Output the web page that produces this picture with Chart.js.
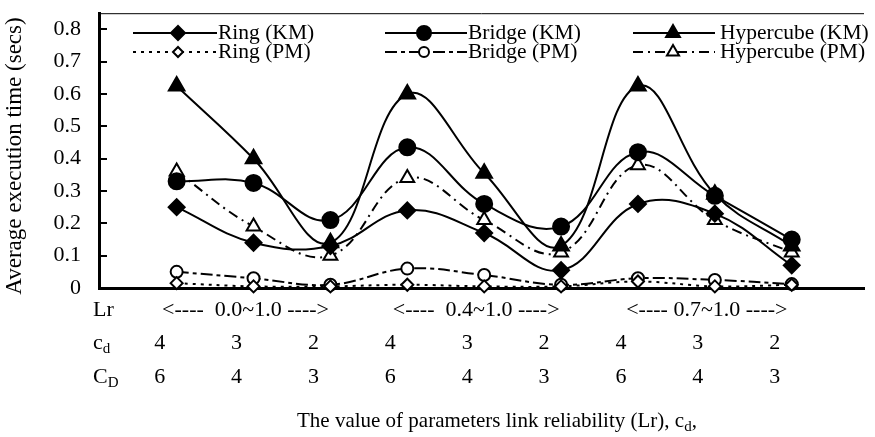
<!DOCTYPE html>
<html>
<head>
<meta charset="utf-8">
<script src="https://cdn.jsdelivr.net/npm/chart.js@4/dist/chart.umd.min.js"></script>
<style>
  html, body { margin: 0; padding: 0; background: #fff; }
  #wrap { width: 875px; height: 437px; }
</style>
</head>
<body>
<div id="wrap"><canvas id="chart" width="875" height="437"></canvas></div>
<script>
// values, one point per parameter setting
const cdValues = ['4', '3', '2', '4', '3', '2', '4', '3', '2'];
const CDValues = ['6', '4', '3', '6', '4', '3', '6', '4', '3'];
const lrRanges = ['<----  0.0~1.0 ---->', '<----  0.4~1.0 ---->', '<---- 0.7~1.0 ---->'];
const lrCenters = [1, 4, 7];

const ringKM   = [0.25, 0.14, 0.13, 0.24, 0.17, 0.055, 0.26, 0.23, 0.07];
const bridgeKM = [0.33, 0.325, 0.21, 0.435, 0.26, 0.19, 0.42, 0.285, 0.15];
const hyperKM  = [0.625, 0.40, 0.14, 0.60, 0.355, 0.13, 0.625, 0.29, 0.13];
const ringPM   = [0.015, 0.005, 0.005, 0.01, 0.005, 0.005, 0.02, 0.005, 0.01];
const bridgePM = [0.05, 0.03, 0.01, 0.06, 0.04, 0.01, 0.03, 0.025, 0.012];
const hyperPM  = [0.36, 0.19, 0.10, 0.34, 0.21, 0.11, 0.38, 0.21, 0.11];

const yTicks = [0, 0.1, 0.2, 0.3, 0.4, 0.5, 0.6, 0.7, 0.8];

const FONT = "'Liberation Serif', 'Times New Roman', serif";

function pts(arr) {
  return arr.map((v, i) => ({ x: i, y: v }));
}

function series(label, arr, style, filled, dash, radius) {
  return {
    label: label,
    data: pts(arr),
    borderColor: '#000',
    borderWidth: 2,
    borderDash: dash,
    backgroundColor: filled ? '#000' : '#fff',
    pointStyle: style,
    pointRadius: radius,
    pointBorderWidth: 2,
    pointBorderColor: '#000',
    pointBackgroundColor: filled ? '#000' : '#fff',
    tension: 0.4,
    clip: false
  };
}

const datasets = [
  series('Ring (KM)', ringKM, 'rectRot', true, [], 8),
  series('Bridge (KM)', bridgeKM, 'circle', true, [], 8),
  series('Hypercube (KM)', hyperKM, 'triangle', true, [], 9),
  series('Ring (PM)', ringPM, 'rectRot', false, [3, 5], 6),
  series('Bridge (PM)', bridgePM, 'circle', false, [12, 4, 4, 4], 6),
  series('Hypercube (PM)', hyperPM, 'triangle', false, [10, 5, 2, 5], 8)
];

// legend columns
const legLineStart = [133, 385, 633];
const legLineEnd = [217, 467, 715];
const legMarker = [178, 424, 673];
const legText = [218, 468, 720];
const legendY = [33, 52];

function textSub(ctx, main, sub, x, y) {
  ctx.font = '22px ' + FONT;
  ctx.textAlign = 'left';
  ctx.textBaseline = 'middle';
  ctx.fillText(main, x, y);
  const w = ctx.measureText(main).width;
  ctx.font = '15px ' + FONT;
  ctx.fillText(sub, x + w, y + 6);
}

const decor = {
  id: 'decor',
  afterDraw(chart) {
    const ctx = chart.ctx;
    const area = chart.chartArea;
    const xs = chart.scales.x;
    const ys = chart.scales.y;
    ctx.save();
    ctx.fillStyle = '#000';
    ctx.strokeStyle = '#000';

    // top frame line
    ctx.lineWidth = 1;
    ctx.beginPath();
    ctx.moveTo(area.left, area.top + 0.5);
    ctx.lineTo(area.right, area.top + 0.5);
    ctx.stroke();

    // inner tick marks on the y axis
    ctx.lineWidth = 2;
    yTicks.forEach(v => {
      if (v === 0) return;
      const y = Math.round(ys.getPixelForValue(v));
      ctx.beginPath();
      ctx.moveTo(area.left, y);
      ctx.lineTo(area.left + 8, y);
      ctx.stroke();
    });

    // legend
    for (let d = 0; d < datasets.length; d++) {
      const ds = datasets[d];
      const col = d % 3, row = Math.floor(d / 3);
      const y0 = legendY[row];
      ctx.lineWidth = 2;
      ctx.strokeStyle = '#000';
      ctx.setLineDash(ds.borderDash);
      ctx.beginPath();
      ctx.moveTo(legLineStart[col], y0);
      ctx.lineTo(legLineEnd[col], y0);
      ctx.stroke();
      ctx.setLineDash([]);
      ctx.fillStyle = ds.pointBackgroundColor;
      Chart.helpers.drawPoint(ctx, {
        pointStyle: ds.pointStyle,
        radius: ds.pointRadius - 1,
        rotation: 0,
        borderWidth: 2
      }, legMarker[col], y0);
      ctx.fillStyle = '#000';
      ctx.font = '21.5px ' + FONT;
      ctx.textAlign = 'left';
      ctx.textBaseline = 'middle';
      ctx.fillText(ds.label, legText[col], y0);
    }

    // parameter rows below the axis
    ctx.fillStyle = '#000';
    ctx.font = '22px ' + FONT;
    ctx.textBaseline = 'middle';
    ctx.textAlign = 'left';
    ctx.fillText('Lr', 93, 310);
    textSub(ctx, 'c', 'd', 93, 343);
    textSub(ctx, 'C', 'D', 93, 377);

    ctx.font = '22px ' + FONT;
    ctx.textAlign = 'center';
    ctx.textBaseline = 'middle';
    lrRanges.forEach((t, k) => {
      ctx.fillText(t, xs.getPixelForValue(lrCenters[k]) - 8, 310);
    });
    cdValues.forEach((t, i) => {
      ctx.fillText(t, xs.getPixelForValue(i) - 17, 343);
    });
    CDValues.forEach((t, i) => {
      ctx.fillText(t, xs.getPixelForValue(i) - 17, 377);
    });

    // x axis caption
    const cap = 'The value of parameters link reliability (Lr), c';
    ctx.font = '21px ' + FONT;
    ctx.textAlign = 'left';
    const w = ctx.measureText(cap).width;
    const cx = 297;
    ctx.fillText(cap, cx, 421);
    ctx.font = '15px ' + FONT;
    ctx.fillText('d', cx + w, 427);
    const wd = ctx.measureText('d').width;
    ctx.font = '21px ' + FONT;
    ctx.fillText(',', cx + w + wd, 421);

    // y axis caption
    ctx.translate(15, 156);
    ctx.rotate(-Math.PI / 2);
    ctx.textAlign = 'center';
    ctx.font = '23px ' + FONT;
    ctx.fillText('Average execution time (secs)', 0, 0);
    ctx.restore();
  }
};

new Chart(document.getElementById('chart'), {
  type: 'line',
  data: { datasets: datasets },
  plugins: [decor],
  options: {
    responsive: false,
    animation: false,
    devicePixelRatio: 1,
    layout: { padding: { top: 12, right: 0, left: 0, bottom: 0 } },
    plugins: { legend: { display: false }, tooltip: { enabled: false } },
    scales: {
      x: {
        type: 'linear',
        min: -1.01,
        max: 8.94,
        grid: { display: false },
        ticks: { display: false },
        border: { display: true, color: '#000', width: 3 },
        afterFit(scale) { scale.height = 149; }
      },
      y: {
        min: 0,
        max: 0.85,
        grid: {
          display: true,
          drawOnChartArea: false,
          drawTicks: true,
          tickLength: 18,
          color: 'rgba(0,0,0,0)'
        },
        border: { display: true, color: '#000', width: 3 },
        ticks: {
          stepSize: 0.1,
          padding: 0,
          color: '#000',
          font: { family: FONT, size: 22 },
          callback: v => (v === 0 ? '0' : v.toFixed(1))
        },
        afterBuildTicks(scale) {
          scale.ticks = yTicks.map(v => ({ value: v }));
        },
        afterFit(scale) { scale.width = 99; }
      }
    }
  }
});
</script>
</body>
</html>
